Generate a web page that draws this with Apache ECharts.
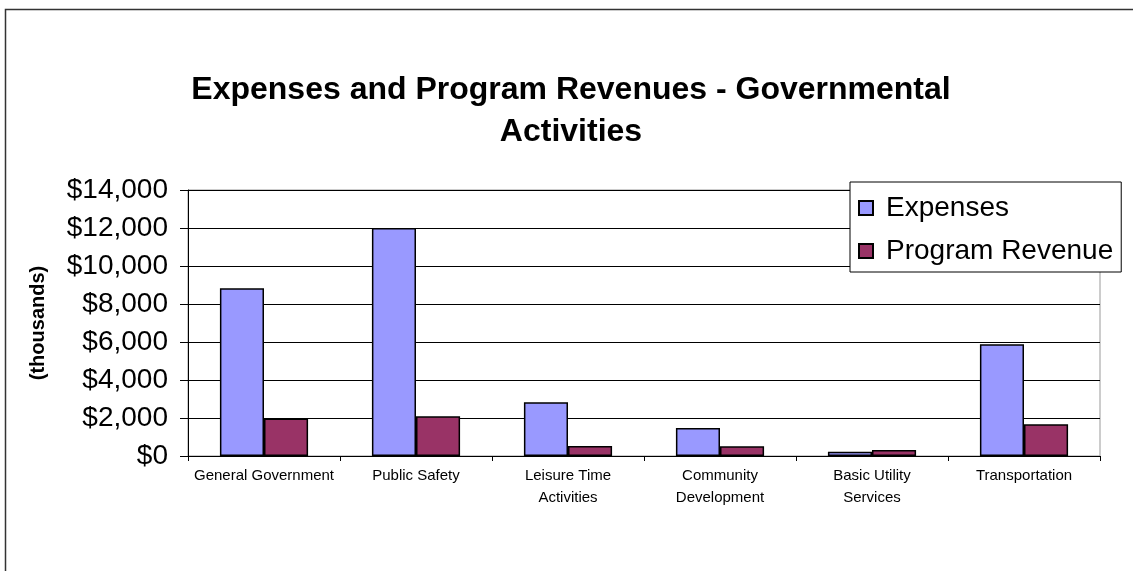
<!DOCTYPE html>
<html>
<head>
<meta charset="utf-8">
<script src="https://cdn.jsdelivr.net/npm/echarts@6/dist/echarts.min.js"></script>
<style>
html,body{margin:0;padding:0;background:#fff;}
#chart{width:1133px;height:571px;}
</style>
</head>
<body>
<div id="chart"></div>
<script>
const categories = ["General Government", "Public Safety", "Leisure Time\nActivities", "Community\nDevelopment", "Basic Utility\nServices", "Transportation"];
const expenses = [8830, 12000, 2830, 1470, 230, 5880];
const programRevenue = [1980, 2090, 530, 510, 320, 1670];
const seriesNames = ["Expenses", "Program Revenue"];
const titleText = "Expenses and Program Revenues - Governmental\nActivities";
const yAxisName = "(thousands)";

const font = "'Liberation Sans', Arial, sans-serif";
const chart = echarts.init(document.getElementById('chart'), null, {renderer: 'canvas'});
chart.setOption({
  animation: false,
  backgroundColor: '#fff',
  graphic: [{
    type: 'rect', left: 3, top: 7, z: -1,
    shape: {width: 1200, height: 700},
    style: {fill: 'none', stroke: '#333', lineWidth: 1.5}
  }],
  title: {
    text: titleText,
    left: 566, top: 64, textAlign: 'center',
    textStyle: {fontFamily: font, fontWeight: 'bold', fontSize: 32, lineHeight: 42, color: '#000'}
  },
  legend: {
    left: 850, top: 182, orient: 'vertical',
    backgroundColor: '#fff',
    borderColor: '#000', borderWidth: 1,
    padding: [12, 8, 7, 8],
    itemWidth: 14, itemHeight: 14, itemGap: 15,
    icon: 'rect',
    textStyle: {fontFamily: font, fontSize: 28, lineHeight: 28, color: '#000', padding: [0, 0, 0, 8]},
    data: seriesNames
  },
  grid: {left: 188, right: 33, top: 190, bottom: 115, show: true, borderColor: '#999', borderWidth: 1, containLabel: false},
  xAxis: {
    type: 'category', data: categories,
    axisLine: {lineStyle: {color: '#000', width: 1}},
    axisTick: {show: true, length: 5, lineStyle: {color: '#000'}},
    axisLabel: {fontFamily: font, fontSize: 15, color: '#000', lineHeight: 22, margin: 9, interval: 0}
  },
  yAxis: {
    type: 'value', min: 0, max: 14000, interval: 2000,
    name: yAxisName, nameLocation: 'middle', nameGap: 140, nameRotate: 90,
    nameTextStyle: {fontFamily: font, fontWeight: 'bold', fontSize: 20, color: '#000'},
    axisLine: {show: true, lineStyle: {color: '#000', width: 1}},
    axisTick: {show: true, length: 8, lineStyle: {color: '#000'}},
    axisLabel: {fontFamily: font, fontSize: 28, color: '#000', margin: 20,
      formatter: v => '$' + v.toLocaleString('en-US')},
    splitLine: {lineStyle: {color: '#000', width: 1}}
  },
  series: [
    {name: seriesNames[0], type: 'bar', data: expenses, barGap: '0%', barCategoryGap: '42%',
     itemStyle: {color: '#9999FF', borderColor: '#000', borderWidth: 1.5}},
    {name: seriesNames[1], type: 'bar', data: programRevenue, barGap: '0%', barCategoryGap: '42%',
     itemStyle: {color: '#993366', borderColor: '#000', borderWidth: 1.5}}
  ]
});
</script>
</body>
</html>
